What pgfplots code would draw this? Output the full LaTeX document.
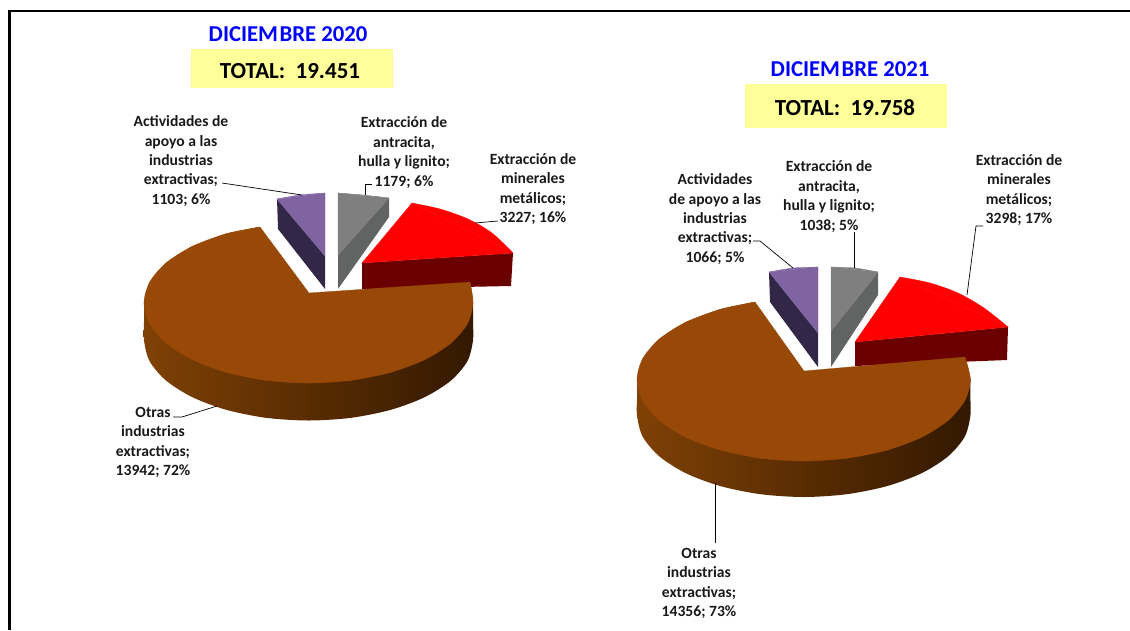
\documentclass[border=0pt]{standalone}
\usepackage{fontspec}
\setmainfont{Carlito}
\usepackage{pgfplots}
\pgfplotsset{compat=1.18}

\definecolor{brownTop}{HTML}{984807}
\definecolor{brownL}{HTML}{7F4105}
\definecolor{brownM}{HTML}{5A2D01}
\definecolor{brownR}{HTML}{331800}
\definecolor{redSide}{HTML}{6B0000}
\definecolor{greyTop}{HTML}{7F7F7F}
\definecolor{greySide}{HTML}{626464}
\definecolor{purpleTop}{HTML}{8064A2}
\definecolor{purpleSide}{HTML}{322747}
\definecolor{boxYellow}{HTML}{FFFF99}

\tikzset{
  lab/.style={align=center, font=\fontsize{15.6}{19.4}\selectfont\bfseries, text=black!90, inner sep=0pt, anchor=center},
  ttl/.style={font=\fontsize{22.7}{24}\selectfont\bfseries, text=blue, inner sep=0pt},
  tot/.style={font=\fontsize{23}{24}\selectfont\bfseries, text=black, inner sep=0pt}
}
\pgfplotsset{
  face/.style={fill=#1, draw=#1, line width=0.3pt}
}

\begin{document}
\begin{tikzpicture}
\begin{axis}[
    scale only axis,
    width=1130pt, height=630pt,
    xmin=0, xmax=1130, ymin=0, ymax=630,
    y dir=reverse,
    hide axis,
]
% keeps the whole page
\addplot[draw=none] coordinates {(0,0) (1130,630)};

% frame: left and top only
\addplot[black, line width=2.4pt] coordinates {(9.5,630) (9.5,11) (1130,11)};

% yellow boxes
\addplot[fill=boxYellow, draw=none] coordinates {(191,49) (393,49) (393,88) (191,88)} --cycle;
\addplot[fill=boxYellow, draw=none] coordinates {(745,84) (947,84) (947,128) (745,128)} --cycle;

% ---- 2020 ----
% red
\addplot[fill=redSide, draw=none] coordinates {(362,263) (513,253) (511,286) (362,289)} --cycle;
\addplot[face=red] coordinates {(362,263) (412,203) (513,253)} --cycle;
\addplot[face=red, smooth] coordinates {(412,203) (440,209) (468,219) (492,233) (513,253)};
% grey
\addplot[fill=greySide, draw=none] coordinates {(338,255) (389,198) (389,217) (338,289)} --cycle;
\addplot[face=greyTop] coordinates {(338,255) (338,193) (389,198)} --cycle;
\addplot[face=greyTop, smooth] coordinates {(338,193) (363,195) (389,198)};
% purple
\addplot[fill=purpleSide, draw=none] coordinates {(325,256) (277,199) (278,229) (325,289)} --cycle;
\addplot[face=purpleTop] coordinates {(325,256) (325,193) (277,199)} --cycle;
\addplot[face=purpleTop, smooth] coordinates {(325,193) (300,195) (277,199)};
% brown
\addplot[draw=none, smooth, left color=brownL, middle color=brownM, right color=brownR] coordinates {
    (144,303) (144,322) (144,340.5) (149.6,361.2) (166,380.5) (192.2,397.1) (226.3,409.8) (265.9,417.8)
    (308.5,420.5) (351.1,417.8) (390.8,409.8) (424.8,397.1) (451,380.5) (467.4,361.2) (473,340.5) (473,322) (473,303)};
\addplot[face=brownTop] coordinates {
    (309,293) (470,282) (473,303) (467.4,323.7) (451,343) (424.8,359.6) (390.8,372.3) (351.1,380.3) (308.5,383)
    (265.9,380.3) (226.3,372.3) (192.2,359.6) (166,343) (149.6,323.7) (144,303) (149.6,282.3) (166,263)
    (192.2,246.4) (226.3,233.7) (260,227)} --cycle;
\addplot[face=brownTop, smooth] coordinates {(470,282) (473,303) (467.4,323.7) (451,343) (424.8,359.6) (390.8,372.3) (351.1,380.3) (308.5,383) (265.9,380.3) (226.3,372.3)};
\addplot[face=brownTop, smooth] coordinates {(265.9,380.3) (226.3,372.3) (192.2,359.6) (166,343) (149.6,323.7) (144,303) (149.6,282.3) (166,263) (192.2,246.4) (226.3,233.7) (260,227)};

% ---- 2021 ----
\addplot[fill=redSide, draw=none] coordinates {(855,342) (1008,327) (1007,360) (855,366)} --cycle;
\addplot[face=red] coordinates {(855,342) (900,277) (1008,327)} --cycle;
\addplot[face=red, smooth] coordinates {(900,277) (930,283) (958,293) (984,308) (1008,327)};
\addplot[fill=greySide, draw=none] coordinates {(831,331) (878,272) (878,295) (831,367)} --cycle;
\addplot[face=greyTop] coordinates {(831,331) (831,267) (878,272)} --cycle;
\addplot[face=greyTop, smooth] coordinates {(831,267) (855,268) (878,272)};
\addplot[fill=purpleSide, draw=none] coordinates {(818,333) (769,272) (770,302) (818,367)} --cycle;
\addplot[face=purpleTop] coordinates {(818,333) (818,267) (769,272)} --cycle;
\addplot[face=purpleTop, smooth] coordinates {(818,267) (793,268) (769,272)};
\addplot[draw=none, smooth, left color=brownL, middle color=brownM, right color=brownR] coordinates {
    (637,379.7) (637,398) (637,415.7) (642.7,436.7) (659.4,456.4) (685.8,473.2) (720.4,486.1) (760.6,494.2)
    (803.7,497) (846.8,494.2) (887,486.1) (921.6,473.2) (948,456.4) (964.7,436.7) (970.4,415.7) (970.4,398) (970.4,379.7)};
\addplot[face=brownTop] coordinates {
    (804,371) (965,357) (970.4,379.7) (964.7,400.7) (948,420.4) (921.6,437.2) (887,450.1) (846.8,458.2) (803.7,461)
    (760.6,458.2) (720.4,450.1) (685.8,437.2) (659.4,420.4) (642.7,400.7) (637,379.7) (642.7,358.7) (659.4,339)
    (685.8,322.2) (720.4,309.3) (755,302)} --cycle;
\addplot[face=brownTop, smooth] coordinates {(965,357) (970.4,379.7) (964.7,400.7) (948,420.4) (921.6,437.2) (887,450.1) (846.8,458.2) (803.7,461) (760.6,458.2) (720.4,450.1)};
\addplot[face=brownTop, smooth] coordinates {(760.6,458.2) (720.4,450.1) (685.8,437.2) (659.4,420.4) (642.7,400.7) (637,379.7) (642.7,358.7) (659.4,339) (685.8,322.2) (720.4,309.3) (755,302)};

% leader lines
\addplot[black, line width=0.7pt] coordinates {(222,183) (302,195)};
\addplot[black, line width=0.7pt] coordinates {(372,184) (365,184) (365,195)};
\addplot[black, line width=0.7pt] coordinates {(498,221) (475,223)};
\addplot[black, line width=0.7pt] coordinates {(173,417) (182,417) (217,406)};
\addplot[black, line width=0.7pt] coordinates {(753,241) (760,241) (793,268)};
\addplot[black, line width=0.7pt] coordinates {(854,232) (854,268)};
\addplot[black, line width=0.7pt] coordinates {(983,226) (976,226) (967,295)};
\addplot[black, line width=0.7pt] coordinates {(715,483) (715,543)};

% titles
\node[ttl] at (axis cs:288,34) {DICIEM\kern1.5pt BRE 2020};
\node[ttl] at (axis cs:850,69) {DICIEM\kern1.5pt BRE 2021};
\node[tot] at (axis cs:290,71.5) {TOTAL:\ \ 19.451};
\node[tot] at (axis cs:845,107.5) {TOTAL:\ \ 19.758};

% labels 2020
\node[lab] at (axis cs:181,161) {Actividades de\\apoyo a las\\industrias\\extractivas;\\1103; 6\%};
\node[lab] at (axis cs:404,152.5) {Extracción de\\antracita,\\hulla y lignito;\\1179; 6\%};
\node[lab] at (axis cs:533,189) {Extracción de\\minerales\\metálicos;\\3227; 16\%};
\node[lab] at (axis cs:153,442.5) {Otras\\industrias\\extractivas;\\13942; 72\%};

% labels 2021
\node[lab] at (axis cs:715,219) {Actividades\\de apoyo a las\\industrias\\extractivas;\\1066; 5\%};
\node[lab] at (axis cs:829,196.5) {Extracción de\\antracita,\\hulla y lignito;\\1038; 5\%};
\node[lab] at (axis cs:1019,190) {Extracción de\\minerales\\metálicos;\\3298; 17\%};
\node[lab] at (axis cs:699,583.5) {Otras\\industrias\\extractivas;\\14356; 73\%};
\end{axis}
\end{tikzpicture}
\end{document}
